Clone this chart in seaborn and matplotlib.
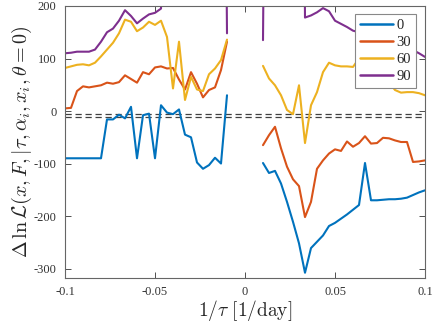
import numpy as np
import pandas as pd
import matplotlib
matplotlib.use("Agg")
import matplotlib.pyplot as plt
import seaborn as sns

sns.set_style("ticks")
plt.rcParams['font.family'] = ['Liberation Serif', 'DejaVu Serif']
plt.rcParams['mathtext.fontset'] = 'cm'

# x grids (1/tau, 1/day)
x_left = np.linspace(-0.1, -0.01, 28)
x_right = np.linspace(0.01, 0.1, 28)

angles = [0, 30, 60, 90]

left_0 = [-90, -90, -90, -90, -90, -90, -90, -16, -16, -7, -14, 8, -90, -8,
          -5, -90, 11, -3, -6, 3, -45, -50, -98, -110, -103, -89, -100, 30]
left_30 = [5, 6, 38, 47, 45, 47, 49, 54, 52, 55, 68, 61, 54, 74,
           70, 83, 85, 81, 82, 60, 41, 74, 52, 26, 40, 45, 78, 132]
left_60 = [82, 85, 88, 89, 87, 92, 104, 117, 130, 148, 174, 170, 152, 159,
           170, 164, 172, 141, 43, 132, 21, 65, 41, 38, 70, 81, 97, 136]
left_90 = [110, 111, 113, 113, 113, 117, 132, 150, 157, 172, 192, 181, 167, 176,
           184, 187, 195, 500, 480, 460, 470, 490, 520, 560, 620, 700, 1500, 148]

right_0 = [-99, -118, -114, -138, -173, -211, -252, -308, -261, -249, -237, -219, -213, -205,
           -197, -188, -179, -99, -170, -170, -169, -168, -168, -167, -165, -160, -155, -151]
right_30 = [-65, -46, -30, -71, -106, -130, -143, -202, -173, -110, -94, -81, -73, -76,
            -58, -68, -61, -48, -62, -61, -51, -52, -56, -59, -59, -97, -96, -94]
right_60 = [86, 62, 49, 30, 2, -6, 49, -61, 11, 36, 74, 92, 87, 85,
            85, 84, 100, 105, 100, 90, 75, 55, 40, 35, 36, 36, 34, 30]
right_90 = [135, 1500, 900, 700, 650, 800, 1500, 178, 182, 188, 196, 190, 172, 166,
            160, 153, 150, 148, 145, 140, 135, 130, 126, 122, 119, 116, 110, 103]

ref_lines = [-6.5, -12.0]

xticks = [-0.1, -0.05, 0, 0.05, 0.1]
xtick_labels = ["-0.1", "-0.05", "0", "0.05", "0.1"]
yticks = [-300, -200, -100, 0, 100, 200]
ytick_labels = ["-300", "-200", "-100", "0", "100", "200"]

colors = ["#0072BD", "#D95319", "#EDB120", "#7E2F8E"]

rows = []
for ang, lv, rv in zip(angles, [left_0, left_30, left_60, left_90],
                       [right_0, right_30, right_60, right_90]):
    for x, v in zip(x_left, lv):
        rows.append(dict(x=x, value=v, angle=str(ang), side="L"))
    for x, v in zip(x_right, rv):
        rows.append(dict(x=x, value=v, angle=str(ang), side="R"))
df = pd.DataFrame(rows)

fig = plt.figure(figsize=(4.36, 3.27), dpi=100)
ax = fig.add_axes([65 / 436, 1 - 278 / 327, 360 / 436, 272 / 327])

for y in ref_lines:
    ax.axhline(y, color="#404040", lw=0.9, ls=(0, (5, 3)), zorder=1)

sns.lineplot(data=df, x="x", y="value", hue="angle", units="side",
             estimator=None, palette=colors, linewidth=1.5, ax=ax,
             hue_order=[str(a) for a in angles], sort=False)

ax.set_xlim(-0.1, 0.1)
ax.set_ylim(-318, 200)
ax.set_xticks(xticks)
ax.set_xticklabels(xtick_labels)
ax.set_yticks(yticks)
ax.set_yticklabels(ytick_labels)
ax.tick_params(direction="in", top=True, right=True, length=4, width=0.6,
               labelsize=9, colors="#333333", pad=6)
for s in ax.spines.values():
    s.set_visible(True)
    s.set_color("#666666")
    s.set_linewidth(0.8)

ax.set_xlabel(r"$1/\tau\ [1/\mathrm{day}]$", fontsize=14, labelpad=0)
ax.set_ylabel(r"$\Delta\,\ln\mathcal{L}(x,F,|\tau,\alpha_i,x_i,\theta=0)$",
              fontsize=14.5, labelpad=0)

handles, labels = ax.get_legend_handles_labels()
for h in handles:
    h.set_linewidth(1.8)
leg = ax.legend(handles, labels, loc="upper right",
                bbox_to_anchor=((416 - 65) / 360, (278 - 14) / 272),
                borderaxespad=0,
                fontsize=10.5, handlelength=2.3, handletextpad=0.2,
                borderpad=0.35, labelspacing=0.25, frameon=True,
                fancybox=False, framealpha=1, edgecolor="#888888")
leg.get_frame().set_linewidth(0.8)

fig.savefig("out.png", dpi=100)
